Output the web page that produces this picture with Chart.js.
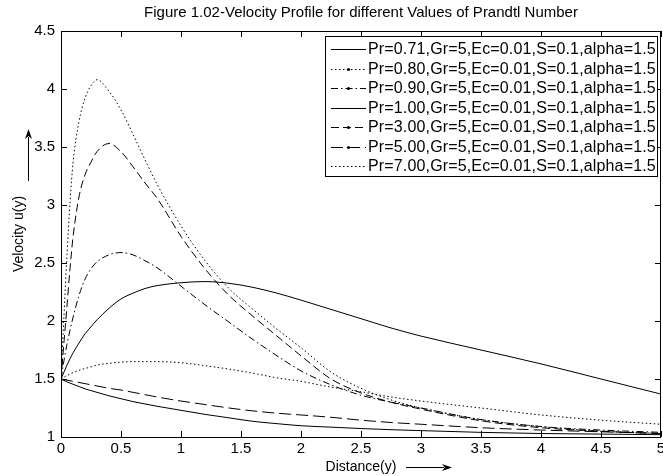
<!DOCTYPE html>
<html>
<head>
<meta charset="utf-8">
<script src="https://cdn.jsdelivr.net/npm/chart.js@4.4.1/dist/chart.umd.min.js"></script>
<style>
  body { margin: 0; background: #fff; }
</style>
</head>
<body>
<canvas id="velocityChart" width="663" height="476"></canvas>
<script>
// distance y (x axis) and velocity u(y) for each Prandtl number
const distance = [0, 0.025, 0.05, 0.075, 0.1, 0.15, 0.2, 0.25, 0.3, 0.4, 0.5, 0.6, 0.7, 0.8, 1.0, 1.2, 1.4, 1.6, 1.8, 2.0, 2.25, 2.5, 2.75, 3.0, 3.5, 4.0, 4.5, 5.0];

const legendLabels = [
    'Pr=0.71,Gr=5,Ec=0.01,S=0.1,alpha=1.5',
    'Pr=0.80,Gr=5,Ec=0.01,S=0.1,alpha=1.5',
    'Pr=0.90,Gr=5,Ec=0.01,S=0.1,alpha=1.5',
    'Pr=1.00,Gr=5,Ec=0.01,S=0.1,alpha=1.5',
    'Pr=3.00,Gr=5,Ec=0.01,S=0.1,alpha=1.5',
    'Pr=5.00,Gr=5,Ec=0.01,S=0.1,alpha=1.5',
    'Pr=7.00,Gr=5,Ec=0.01,S=0.1,alpha=1.5'
];

const uPr071 = [1.5, 1.56, 1.62, 1.675, 1.725, 1.81, 1.89, 1.95, 2.01, 2.11, 2.19, 2.24, 2.28, 2.305, 2.33, 2.34, 2.325, 2.29, 2.24, 2.18, 2.10, 2.02, 1.94, 1.87, 1.75, 1.63, 1.50, 1.37];
const uPr080 = [1.5, 2.05, 2.57, 3.02, 3.36, 3.72, 3.92, 4.03, 4.08, 3.98, 3.82, 3.61, 3.39, 3.18, 2.82, 2.52, 2.28, 2.10, 1.93, 1.77, 1.56, 1.42, 1.32, 1.25, 1.15, 1.09, 1.05, 1.03];
const uPr090 = [1.5, 1.66, 1.80, 1.92, 2.03, 2.22, 2.36, 2.45, 2.51, 2.57, 2.59, 2.57, 2.52, 2.46, 2.30, 2.14, 1.99, 1.84, 1.70, 1.57, 1.45, 1.36, 1.30, 1.25, 1.15, 1.09, 1.06, 1.04];
const uPr100 = [1.5, 1.487, 1.475, 1.465, 1.455, 1.435, 1.415, 1.40, 1.385, 1.355, 1.33, 1.305, 1.285, 1.265, 1.23, 1.195, 1.165, 1.135, 1.115, 1.097, 1.085, 1.073, 1.063, 1.055, 1.04, 1.03, 1.025, 1.02];
const uPr300 = [1.5, 1.82, 2.13, 2.45, 2.72, 3.07, 3.26, 3.37, 3.46, 3.53, 3.46, 3.33, 3.19, 3.06, 2.73, 2.45, 2.22, 2.04, 1.87, 1.70, 1.50, 1.38, 1.30, 1.24, 1.14, 1.08, 1.05, 1.03];
const uPr500 = [1.5, 1.495, 1.49, 1.485, 1.48, 1.47, 1.46, 1.45, 1.44, 1.42, 1.405, 1.385, 1.365, 1.345, 1.31, 1.28, 1.25, 1.225, 1.205, 1.19, 1.17, 1.145, 1.125, 1.11, 1.08, 1.06, 1.045, 1.03];
const uPr700 = [1.5, 1.515, 1.53, 1.543, 1.555, 1.575, 1.59, 1.605, 1.62, 1.635, 1.645, 1.65, 1.65, 1.65, 1.64, 1.615, 1.585, 1.55, 1.51, 1.48, 1.43, 1.39, 1.345, 1.31, 1.25, 1.19, 1.145, 1.11];

const FONT = '"Liberation Sans", Arial, Helvetica, sans-serif';

function pts(values) {
    return values.map((v, i) => ({ x: distance[i], y: v }));
}

function series(idx, values, dash, marker) {
    return {
        label: legendLabels[idx],
        data: pts(values),
        borderColor: '#000',
        borderWidth: 1,
        borderDash: dash,
        pointRadius: 0,
        fill: false,
        cubicInterpolationMode: 'monotone',
        legendMarker: marker
    };
}

function drawArrow(ctx, x1, y1, x2, y2) {
    const ang = Math.atan2(y2 - y1, x2 - x1);
    const len = 10, half = 3.5;
    const c = Math.cos(ang), s = Math.sin(ang);
    ctx.beginPath();
    ctx.moveTo(x1, y1);
    ctx.lineTo(x2 - c * len * 0.8, y2 - s * len * 0.8);
    ctx.stroke();
    ctx.beginPath();
    ctx.moveTo(x2, y2);
    ctx.lineTo(x2 - c * len - s * half, y2 - s * len + c * half);
    ctx.lineTo(x2 - c * len * 0.7, y2 - s * len * 0.7);
    ctx.lineTo(x2 - c * len + s * half, y2 - s * len - c * half);
    ctx.closePath();
    ctx.fill();
}

// matlab style box, inward ticks, arrows and the boxed legend
const matlabAxes = {
    id: 'matlabAxes',
    afterDraw(chart) {
        const ctx = chart.ctx;
        const a = chart.chartArea;
        const xs = chart.scales.x, ys = chart.scales.y;
        ctx.save();
        ctx.strokeStyle = '#000';
        ctx.fillStyle = '#000';
        ctx.lineWidth = 1;
        ctx.setLineDash([]);
        ctx.strokeRect(a.left + 0.5, a.top + 0.5, a.right - a.left - 1, a.bottom - a.top);

        ctx.beginPath();
        xs.ticks.forEach(t => {
            const px = Math.round(xs.getPixelForValue(t.value)) + 0.5;
            ctx.moveTo(px, a.bottom); ctx.lineTo(px, a.bottom - 6);
            ctx.moveTo(px, a.top); ctx.lineTo(px, a.top + 6);
        });
        ys.ticks.forEach(t => {
            const py = Math.round(ys.getPixelForValue(t.value)) + 0.5;
            ctx.moveTo(a.left, py); ctx.lineTo(a.left + 6, py);
            ctx.moveTo(a.right, py); ctx.lineTo(a.right - 6, py);
        });
        ctx.stroke();

        // arrows next to the axis titles
        drawArrow(ctx, 406, 467.5, 452, 467.5);
        drawArrow(ctx, 28.5, 181, 28.5, 129);

        // legend
        const lx = 325.5, ly = 36.5, lw = 332, lh = 140;
        ctx.fillStyle = '#fff';
        ctx.fillRect(lx, ly, lw, lh);
        ctx.strokeRect(lx, ly, lw, lh);
        ctx.font = '16px ' + FONT;
        ctx.letterSpacing = '0.15px';
        ctx.textBaseline = 'middle';
        ctx.textAlign = 'left';
        chart.data.datasets.forEach((ds, i) => {
            const ry = Math.round(49 + i * 19.5) + 0.5;
            ctx.strokeStyle = '#000';
            ctx.setLineDash(ds.borderDash || []);
            ctx.beginPath();
            ctx.moveTo(331, ry);
            ctx.lineTo(366, ry);
            ctx.stroke();
            ctx.setLineDash([]);
            ctx.fillStyle = '#000';
            if (ds.legendMarker) {
                ctx.beginPath();
                ctx.arc(348.5, ry, 1.6, 0, Math.PI * 2);
                ctx.fill();
            }
            ctx.fillText(ds.label, 368, ry + 0.5);
        });
        ctx.restore();
    }
};

const chartElement = new Chart(document.getElementById('velocityChart'), {
    type: 'line',
    data: {
        datasets: [
            series(0, uPr071, [], false),
            series(1, uPr080, [1.5, 2.5], true),
            series(2, uPr090, [7, 3, 1.5, 3], true),
            series(3, uPr100, [], false),
            series(4, uPr300, [8, 4], true),
            series(5, uPr500, [12, 5], true),
            series(6, uPr700, [1.5, 2.5], false)
        ]
    },
    options: {
        responsive: false,
        animation: false,
        layout: { padding: { top: 0, right: 2, bottom: 0, left: 0 } },
        plugins: {
            legend: { display: false },
            tooltip: { enabled: false },
            title: {
                display: true,
                fullSize: false,
                text: 'Figure 1.02-Velocity Profile for different Values of Prandtl Number',
                color: '#000',
                font: { family: FONT, size: 15, weight: 'normal' },
                padding: { top: 4, bottom: 9 }
            }
        },
        scales: {
            x: {
                type: 'linear',
                min: 0,
                max: 5,
                ticks: { stepSize: 0.5, color: '#000', padding: 3, maxRotation: 0, font: { family: FONT, size: 15 },
                         callback: v => String(v) },
                grid: { display: false, drawTicks: false },
                border: { display: false },
                title: { display: true, text: 'Distance(y)', color: '#000', font: { family: FONT, size: 14 }, padding: { top: 0, bottom: 0.6 } },
                afterFit(s) { s.height = 39; s.paddingLeft = 0; s.paddingRight = 0; }
            },
            y: {
                type: 'linear',
                min: 1,
                max: 4.5,
                ticks: { stepSize: 0.5, color: '#000', padding: 6, font: { family: FONT, size: 15 },
                         callback: v => String(v) },
                grid: { display: false, drawTicks: false },
                border: { display: false },
                title: { display: true, text: 'Velocity u(y)', color: '#000', font: { family: FONT, size: 14 }, padding: { top: 10.6, bottom: 0 } },
                afterFit(s) { s.width = 61; s.paddingTop = 0; s.paddingBottom = 0; }
            }
        }
    },
    plugins: [matlabAxes]
});
</script>
</body>
</html>
